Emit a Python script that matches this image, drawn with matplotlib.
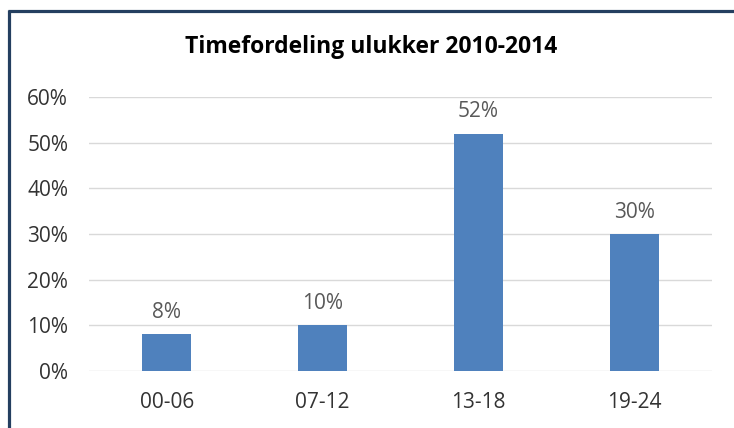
import matplotlib
matplotlib.use("Agg")
import matplotlib.pyplot as plt
from matplotlib.lines import Line2D
from matplotlib.ticker import FuncFormatter

categories = ["00-06", "07-12", "13-18", "19-24"]
values = [0.08, 0.10, 0.52, 0.30]
labels = ["8%", "10%", "52%", "30%"]
title = "Timefordeling ulukker 2010-2014"

plt.rcParams['font.family'] = ['Open Sans', 'DejaVu Sans']

fig = plt.figure(figsize=(7.34, 4.28), dpi=100)
ax = fig.add_axes([89/734, 1-371/428, (712-89)/734, (371-97)/428])

x = list(range(len(categories)))
bars = ax.bar(x, values, width=0.315, color="#4F81BD", zorder=3)
ax.set_xlim(-0.5, len(categories) - 0.5)
ax.set_ylim(0, 0.6)
ax.set_yticks([i / 10 for i in range(7)])
ax.yaxis.set_major_formatter(FuncFormatter(lambda v, p: f"{round(v*100)}%"))
ax.set_xticks(x)
ax.set_xticklabels(categories)
ax.grid(axis="y", color="#D9D9D9", linewidth=1, zorder=0)
for s in ax.spines.values():
    s.set_visible(False)
ax.tick_params(axis="both", length=0, labelsize=15, colors="#333333")
ax.tick_params(axis="y", pad=15)
ax.tick_params(axis="x", pad=15)

for xi, v, lab in zip(x, values, labels):
    ax.annotate(lab, (xi, v), xytext=(0, 8), textcoords="offset points",
                ha="center", va="bottom", fontsize=15, color="#595959")

fig.text(371.5/734, 1 - 47/428, title, ha="center", va="center",
         fontsize=16.5, fontweight="bold", color="black")

navy = "#243F60"
fig.add_artist(Line2D([8/734, 1], [1 - 10.5/428, 1 - 10.5/428], color=navy, linewidth=2.3,
                      transform=fig.transFigure, solid_capstyle="butt"))
fig.add_artist(Line2D([8.5/734, 8.5/734], [1 - 9.5/428, 0], color=navy, linewidth=2.3,
                      transform=fig.transFigure, solid_capstyle="butt"))

fig.savefig("out.png", dpi=100)
